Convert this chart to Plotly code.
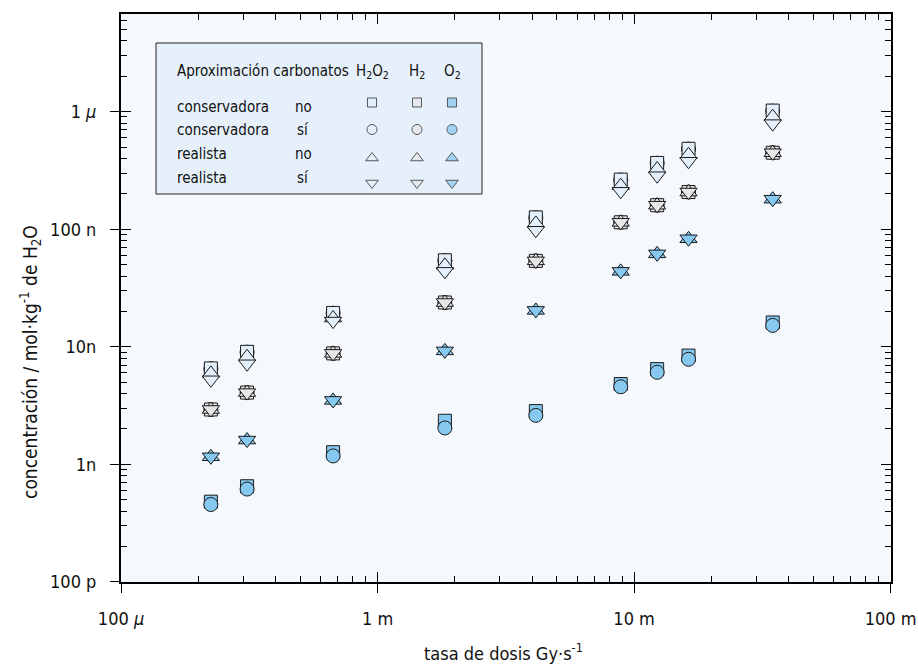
import numpy as np
import plotly.graph_objects as go

# ---------------- data ----------------
dose = [2.24e-4, 3.10e-4, 6.71e-4, 1.83e-3, 4.14e-3, 8.87e-3, 1.23e-2, 1.63e-2, 3.47e-2]

h2o2_cons_no = [6.55e-9, 9.06e-9, 1.94e-8, 5.44e-8, 1.26e-7, 2.64e-7, 3.66e-7, 4.83e-7, 1.02e-6]
h2o2_cons_si = [6.50e-9, 9.00e-9, 1.93e-8, 5.40e-8, 1.25e-7, 2.62e-7, 3.64e-7, 4.80e-7, 1.01e-6]
h2o2_real_no = [5.94e-9, 8.22e-9, 1.755e-8, 4.93e-8, 1.12e-7, 2.345e-7, 3.25e-7, 4.30e-7, 9.05e-7]
h2o2_real_si = [5.24e-9, 7.17e-9, 1.655e-8, 4.38e-8, 9.79e-8, 2.10e-7, 2.85e-7, 3.78e-7, 7.90e-7]

h2_cons_no = [2.93e-9, 4.08e-9, 8.79e-9, 2.38e-8, 5.38e-8, 1.145e-7, 1.60e-7, 2.07e-7, 4.47e-7]
h2_cons_si = [2.93e-9, 4.08e-9, 8.79e-9, 2.38e-8, 5.38e-8, 1.145e-7, 1.60e-7, 2.07e-7, 4.47e-7]
h2_real_no = [2.93e-9, 4.08e-9, 8.79e-9, 2.38e-8, 5.38e-8, 1.145e-7, 1.60e-7, 2.07e-7, 4.47e-7]
h2_real_si = [2.93e-9, 4.08e-9, 8.79e-9, 2.38e-8, 5.38e-8, 1.145e-7, 1.60e-7, 2.07e-7, 4.47e-7]

o2_cons_no = [4.82e-10, 6.52e-10, 1.27e-9, 2.35e-9, 2.84e-9, 4.82e-9, 6.46e-9, 8.42e-9, 1.61e-8]
o2_cons_si = [4.56e-10, 6.17e-10, 1.18e-9, 2.04e-9, 2.61e-9, 4.57e-9, 6.07e-9, 7.83e-9, 1.52e-8]
o2_real_no = [1.16e-9, 1.61e-9, 3.50e-9, 9.23e-9, 2.04e-8, 4.38e-8, 6.17e-8, 8.29e-8, 1.80e-7]
o2_real_si = [1.16e-9, 1.61e-9, 3.50e-9, 9.23e-9, 2.04e-8, 4.38e-8, 6.17e-8, 8.29e-8, 1.80e-7]

x_tickvals = [1e-4, 1e-3, 1e-2, 1e-1]
x_ticktext = ["100 <i>μ</i>", "1 m", "10 m", "100 m"]
y_tickvals = [1e-10, 1e-9, 1e-8, 1e-7, 1e-6]
y_ticktext = ["100 p", "1n", "10n", "100 n", "1 <i>μ</i>"]

legend_species = ["H<sub>2</sub>O<sub>2</sub>", "H<sub>2</sub>", "O<sub>2</sub>"]
legend_approx = ["conservadora", "conservadora", "realista", "realista"]
legend_carb = ["no", "sí", "no", "sí"]

# ---------------- styles ----------------
FONT = "'Liberation Sans Narrow', 'DejaVu Sans Condensed', 'Roboto Condensed', sans-serif"
FILL = {"H2O2": "#e3f0fb", "H2": "#e6e6e6", "O2": "#86c8ef"}
EDGE = dict(color="#1a1a1a", width=1)
SYM = {"cons_no": "square", "cons_si": "circle", "real_no": "triangle-up", "real_si": "triangle-down"}
SIZE = {"square": 13, "circle": 14, "triangle-up": 15, "triangle-down": 15}

series = {
    ("H2O2", "cons_no"): h2o2_cons_no, ("H2O2", "cons_si"): h2o2_cons_si,
    ("H2O2", "real_no"): h2o2_real_no, ("H2O2", "real_si"): h2o2_real_si,
    ("H2", "cons_no"): h2_cons_no, ("H2", "cons_si"): h2_cons_si,
    ("H2", "real_no"): h2_real_no, ("H2", "real_si"): h2_real_si,
    ("O2", "cons_no"): o2_cons_no, ("O2", "cons_si"): o2_cons_si,
    ("O2", "real_no"): o2_real_no, ("O2", "real_si"): o2_real_si,
}

draw_order = [
    ("H2O2", "cons_si"), ("H2O2", "cons_no"),
    ("H2", "cons_si"), ("H2", "cons_no"),
    ("O2", "cons_no"), ("O2", "cons_si"),
    ("H2O2", "real_no"), ("H2", "real_no"), ("O2", "real_no"),
    ("H2O2", "real_si"), ("H2", "real_si"), ("O2", "real_si"),
]

fig = go.Figure()
for sp, kind in draw_order:
    sym = SYM[kind]
    fig.add_trace(go.Scatter(
        x=dose, y=series[(sp, kind)], mode="markers",
        marker=dict(symbol=sym, size=SIZE[sym], color=FILL[sp], line=EDGE),
        showlegend=False, hoverinfo="x+y",
    ))

# invisible trace to activate the overlay axes (outside ticks + labels)
fig.add_trace(go.Scatter(x=dose, y=h2_cons_no, mode="markers", xaxis="x2", yaxis="y2",
                         marker=dict(opacity=0), showlegend=False, hoverinfo="skip"))

# ---------------- custom legend ----------------
L, R, T, B = 121, 27, 14, 90
W, H = 918 - L - R, 672 - T - B


def px_x(p):
    return (p - L) / W


def px_y(p):
    return (672 - B - p) / H


leg_col_px = [372, 417, 452]
leg_row_px = [102.5, 129.5, 158, 183]
leg_text_row_px = [107, 130, 154, 178]
kinds = ["cons_no", "cons_si", "real_no", "real_si"]
leg_size = {"square": 9, "circle": 10, "triangle-up": 11, "triangle-down": 11}
for j, sp in enumerate(["H2O2", "H2", "O2"]):
    xs, ys, syms = [], [], []
    for i, k in enumerate(kinds):
        xs.append(px_x(leg_col_px[j]))
        ys.append(px_y(leg_row_px[i]))
        syms.append(SYM[k])
    fig.add_trace(go.Scatter(
        x=xs, y=ys, mode="markers", xaxis="x3", yaxis="y3",
        marker=dict(symbol=syms, size=[leg_size[s] for s in syms], color=FILL[sp],
                    line=dict(color="#1a1a1a", width=1)),
        showlegend=False, hoverinfo="skip"))

shapes = [dict(type="rect", xref="paper", yref="paper",
               x0=px_x(156), x1=px_x(482), y0=px_y(194), y1=px_y(43),
               fillcolor="#e6f0fa", line=dict(color="#222", width=1), layer="below")]

annotations = []
LEG_FONT = dict(family=FONT, size=15, color="#111")
annotations.append(dict(text="Aproximación carbonatos", x=px_x(175), y=px_y(71), xref="paper", yref="paper",
                        xanchor="left", yanchor="middle", showarrow=False, font=LEG_FONT))
for j, lab in enumerate(legend_species):
    annotations.append(dict(text=lab, x=px_x(leg_col_px[j]), y=px_y(71), xref="paper", yref="paper",
                            xanchor="center", yanchor="middle", showarrow=False, font=LEG_FONT))
for i in range(4):
    annotations.append(dict(text=legend_approx[i], x=px_x(175), y=px_y(leg_text_row_px[i]),
                            xref="paper", yref="paper", xanchor="left", yanchor="middle",
                            showarrow=False, font=LEG_FONT))
    annotations.append(dict(text=legend_carb[i], x=px_x(303), y=px_y(leg_text_row_px[i]),
                            xref="paper", yref="paper", xanchor="center", yanchor="middle",
                            showarrow=False, font=LEG_FONT))

# axis titles
annotations.append(dict(text="concentración / mol·kg<sup>-1</sup> de H<sub>2</sub>O",
                        x=px_x(30), y=px_y(362), xref="paper", yref="paper", textangle=-90,
                        xanchor="center", yanchor="middle", showarrow=False,
                        font=dict(family=FONT, size=19, color="#111")))
annotations.append(dict(text="tasa de dosis Gy·s<sup>-1</sup>",
                        x=px_x(503), y=px_y(652), xref="paper", yref="paper",
                        xanchor="center", yanchor="middle", showarrow=False,
                        font=dict(family=FONT, size=18, color="#111")))

# minor tick positions
minor_x = [k * 10.0 ** d for d in range(-4, -1) for k in range(2, 10)]
minor_y = [k * 10.0 ** d for d in range(-10, -5) for k in range(2, 10)]

TICKFONT = dict(family=FONT, size=18, color="#111")
XR = [-4.0001, -0.9985]
YR = [-10.0001, -5.17]

base_axis = dict(type="log", showline=True, linecolor="black", linewidth=1.5, mirror="allticks",
                 ticks="inside", ticklen=10, tickwidth=1, tickcolor="black", showgrid=False,
                 zeroline=False, showticklabels=False, tickmode="array", automargin=False)

fig.update_layout(
    width=918, height=672,
    margin=dict(l=L, r=R, t=T, b=B, pad=0, autoexpand=False),
    paper_bgcolor="white", plot_bgcolor="#f5f9fd",
    font=dict(family=FONT, color="#111"),
    xaxis=dict(base_axis, range=XR, tickvals=x_tickvals,
               minor=dict(ticks="inside", ticklen=6, tickcolor="black", tickwidth=1,
                          tickmode="array", tickvals=minor_x, showgrid=False)),
    yaxis=dict(base_axis, range=YR, tickvals=y_tickvals,
               minor=dict(ticks="inside", ticklen=6, tickcolor="black", tickwidth=1,
                          tickmode="array", tickvals=minor_y, showgrid=False)),
    xaxis2=dict(type="log", overlaying="x", anchor="y", side="bottom", range=XR,
                tickmode="array", tickvals=x_tickvals, ticktext=x_ticktext, ticks="outside",
                ticklen=10, tickwidth=1, tickcolor="black", showline=False, showgrid=False,
                zeroline=False, tickfont=TICKFONT, ticklabelstandoff=10, automargin=False),
    yaxis2=dict(type="log", overlaying="y", anchor="x", side="left", range=YR,
                tickmode="array", tickvals=y_tickvals, ticktext=y_ticktext, ticks="outside",
                ticklen=10, tickwidth=1, tickcolor="black", showline=False, showgrid=False,
                zeroline=False, tickfont=TICKFONT, ticklabelstandoff=10, automargin=False),
    xaxis3=dict(overlaying="x", range=[0, 1], visible=False, fixedrange=True, automargin=False),
    yaxis3=dict(overlaying="y", range=[0, 1], visible=False, fixedrange=True, automargin=False),
    shapes=shapes,
    annotations=annotations,
    showlegend=False,
)

fig.write_html("out.html")
